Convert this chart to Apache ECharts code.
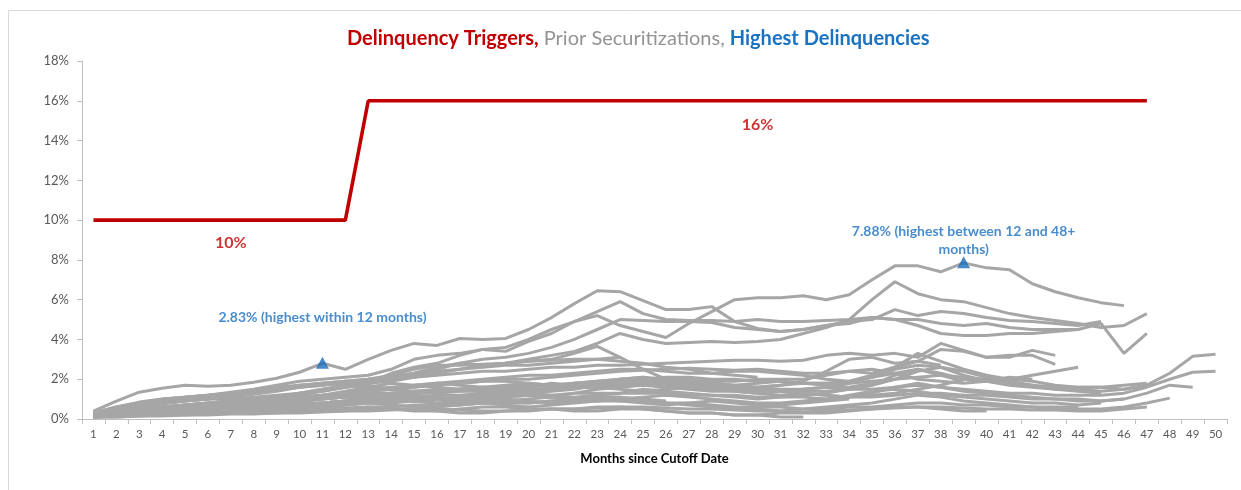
<!DOCTYPE html>
<html>
<head>
<meta charset="utf-8">
<script src="https://cdn.jsdelivr.net/npm/echarts@6/dist/echarts.min.js"></script>
<style>
html,body{margin:0;padding:0;background:#fff;}
#chart{width:1241px;height:490px;}
</style>
</head>
<body>
<div id="chart"></div>
<script>
// ---------- DATA ----------
const months = Array.from({length: 50}, (_, i) => String(i + 1));

// Delinquency trigger (%), months 1..47
const triggerValues = [10,10,10,10,10,10,10,10,10,10,10,10,
  16,16,16,16,16,16,16,16,16,16,16,16,16,16,16,16,16,16,16,16,16,16,16,16,
  16,16,16,16,16,16,16,16,16,16,16];

// Prior securitizations delinquency curves (%), each starting at month 1
const prior01 = [0.4,0.9,1.35,1.55,1.7,1.65,1.7,1.85,2.05,2.35,2.8,2.5,3.0,3.45,3.8,3.7,4.05,4.0,4.05,4.5,5.1,5.8,6.45,6.4,5.95,5.5,5.5,5.65,4.9,4.55,4.4,4.5,4.7,4.9,5.0,5.5,5.2,5.4,5.3,5.1,4.95,4.9,4.8,4.7,4.9];
const prior02 = [0.3,0.6,0.85,1.0,1.1,1.2,1.35,1.5,1.7,1.9,2.0,2.1,2.2,2.5,3.0,3.2,3.3,3.5,3.4,3.9,4.3,4.9,5.4,5.9,5.3,5.0,4.95,4.95,4.9,5.0,4.9,4.9,4.95,5.0,6.0,6.9,6.3,6.0,5.9,5.6,5.3,5.1,4.95,4.8,4.6,4.7,5.3];
const prior03 = [0.2,0.4,0.6,0.75,0.9,1.0,1.1,1.3,1.5,1.7,1.8,1.9,1.8,2.3,2.6,2.8,3.2,3.5,3.6,4.0,4.5,4.9,5.2,4.7,4.4,4.1,4.8,5.4,6.0,6.1,6.1,6.2,6.0,6.25,7.0,7.7,7.7,7.4,7.85,7.6,7.5,6.8,6.4,6.1,5.85,5.7];
const prior04 = [0.3,0.5,0.7,0.9,1.0,1.1,1.2,1.3,1.5,1.6,1.8,1.9,2.0,2.1,2.3,2.6,2.8,2.7,2.8,3.0,3.2,3.4,3.8,4.3,4.0,3.8,3.85,3.9,3.85,3.9,4.0,4.3,4.6,5.0,5.1,5.0,5.0,4.8,4.7,4.8,4.6,4.5,4.5,4.5,4.8,3.3,4.3];
const prior05 = [0.2,0.35,0.5,0.6,0.7,0.8,0.9,1.0,1.1,1.3,1.5,1.7,1.9,2.1,2.3,2.5,2.8,3.0,3.1,3.3,3.6,4.0,4.5,5.0,4.95,4.9,4.9,4.85,4.6,4.5,4.4,4.5,4.7,4.8,5.1,5.0,4.7,4.3,4.2,4.2,4.3,4.3,4.4,4.5];
const prior06 = [0.2,0.3,0.45,0.55,0.65,0.75,0.85,1.0,1.1,1.2,1.4,1.6,1.8,1.9,2.1,2.2,2.3,2.4,2.4,2.5,2.6,2.6,2.7,2.7,2.75,2.8,2.85,2.9,2.95,2.95,2.9,2.95,3.2,3.3,3.2,3.3,3.1,3.8,3.45,3.1,3.1,3.45,3.2];
const prior07 = [0.3,0.5,0.7,0.8,0.9,1.0,1.1,1.25,1.4,1.6,1.7,1.9,2.0,2.2,2.5,2.7,2.7,2.75,2.8,2.9,3.0,3.3,3.65,3.1,2.5,2.0,1.8,1.7,1.6,1.6,1.7,1.9,2.4,3.0,3.1,2.8,2.9,3.5,3.4,3.1,3.2,3.2,2.75];
const prior08 = [0.2,0.3,0.4,0.5,0.55,0.6,0.7,0.8,0.9,1.0,1.1,1.3,1.5,1.6,1.7,1.8,1.8,1.9,2.0,2.0,2.1,2.2,2.3,2.4,2.45,2.5,2.55,2.5,2.45,2.5,2.4,2.3,2.3,2.4,2.5,2.3,2.0,1.9,1.8,1.9,2.0,2.2,2.4,2.6];
const prior09 = [0.2,0.3,0.4,0.5,0.55,0.6,0.7,0.8,0.9,1.0,1.1,1.2,1.3,1.3,1.4,1.5,1.5,1.6,1.6,1.7,1.7,1.8,1.8,1.9,1.9,2.0,2.0,1.9,1.9,2.0,2.0,2.0,2.2,2.4,2.3,2.6,3.3,2.9,2.5,2.2,2.0,1.9,1.7,1.6,1.6,1.7,1.8];
const prior10 = [0.1,0.2,0.3,0.4,0.5,0.55,0.6,0.7,0.8,0.9,1.0,1.1,1.2,1.3,1.3,1.4,1.4,1.5,1.5,1.6,1.7,1.8,1.9,2.0,2.0,2.1,2.1,2.0,2.0,1.9,1.9,1.8,1.8,1.8,1.9,2.0,2.1,2.2,2.1,2.0,1.8,1.7,1.6,1.6,1.6,1.5,1.7,2.3,3.15,3.25];
const prior11 = [0.2,0.3,0.4,0.5,0.6,0.7,0.7,0.8,0.8,0.9,1.0,1.1,1.2,1.2,1.3,1.3,1.4,1.4,1.4,1.5,1.5,1.6,1.6,1.7,1.7,1.7,1.6,1.6,1.5,1.5,1.4,1.4,1.4,1.5,1.5,1.6,1.7,1.6,1.5,1.4,1.3,1.3,1.2,1.2,1.2,1.3,1.6,2.0,2.35,2.4];
const prior12 = [0.1,0.2,0.3,0.35,0.4,0.45,0.5,0.55,0.6,0.7,0.75,0.8,0.9,0.9,1.0,1.0,1.1,1.1,1.1,1.2,1.2,1.3,1.3,1.3,1.3,1.3,1.2,1.2,1.2,1.1,1.1,1.1,1.0,1.1,1.1,1.2,1.3,1.3,1.2,1.2,1.1,1.0,1.0,0.9,0.9,1.0,1.3,1.7,1.6];
const prior13 = [0.1,0.15,0.2,0.25,0.3,0.3,0.35,0.4,0.4,0.45,0.5,0.55,0.6,0.6,0.7,0.7,0.7,0.8,0.8,0.8,0.9,0.9,0.9,0.9,0.9,0.8,0.8,0.7,0.6,0.6,0.6,0.5,0.5,0.6,0.6,0.7,0.8,0.8,0.7,0.7,0.6,0.6,0.5,0.5,0.5,0.6,0.8,1.05];
const prior14 = [0.3,0.5,0.6,0.8,0.9,1.0,1.0,1.1,1.2,1.3,1.4,1.6,1.7,1.5,1.4,1.3,1.5,1.6,1.5,1.4,1.6,1.8,1.9,2.0,2.1,2.0,1.9,1.8,1.7,1.8,1.9,1.8,1.7,1.6,1.8,2.0,2.4,2.6,2.2,1.9,1.7,1.6,1.5,1.5,1.4,1.5,1.7];
const prior15 = [0.2,0.3,0.4,0.5,0.6,0.6,0.7,0.7,0.8,0.9,1.0,1.1,1.0,0.9,0.9,1.0,1.1,1.2,1.3,1.2,1.1,1.3,1.5,1.6,1.7,1.6,1.5,1.4,1.4,1.3,1.2,1.3,1.2,1.1,1.3,1.6,1.8,1.6,1.4,1.3,1.2,1.1,1.0,1.0,0.9,1.0];
const prior16 = [0.2,0.25,0.3,0.35,0.4,0.5,0.55,0.6,0.7,0.75,0.8,0.9,1.1,1.3,1.2,1.0,0.9,0.8,0.9,1.0,1.1,1.0,0.9,1.0,1.1,1.2,1.1,1.0,0.9,0.8,0.8,0.9,1.0,1.2,1.4,1.5,1.4,1.2,1.1,1.0,0.9,0.8,0.8,0.7,0.8];
const prior17 = [0.1,0.2,0.25,0.3,0.3,0.35,0.4,0.4,0.45,0.5,0.6,0.7,0.8,0.7,0.6,0.6,0.7,0.8,0.7,0.6,0.7,0.8,0.9,1.0,0.9,0.8,0.7,0.6,0.5,0.5,0.4,0.5,0.6,0.7,0.8,1.0,1.2,1.1,0.9,0.8,0.7,0.6,0.6,0.6];
const prior18 = [0.3,0.5,0.7,0.9,1.1,1.2,1.3,1.4,1.6,1.7,1.8,1.7,1.6,1.5,1.6,1.8,1.7,1.6,1.5,1.6,1.8,1.7,1.6,1.5,1.4,1.5,1.6,1.5,1.4,1.3,1.4,1.5,1.6,1.5,1.7,2.2,2.5,2.3,2.0,1.9,2.1,2.0];
const prior19 = [0.1,0.15,0.2,0.2,0.25,0.3,0.3,0.35,0.4,0.45,0.5,0.5,0.6,0.5,0.5,0.4,0.5,0.6,0.6,0.5,0.5,0.4,0.4,0.5,0.5,0.4,0.3,0.3,0.2,0.2,0.3,0.3,0.3,0.4,0.5,0.6,0.6,0.5,0.4,0.4];
const prior20 = [0.2,0.35,0.5,0.6,0.7,0.8,0.9,1.0,1.0,1.1,1.2,1.4,1.6,1.8,1.7,1.6,1.5,1.4,1.3,1.3,1.4,1.5,1.7,2.0,2.1,1.9,1.7,1.6,1.5,1.6,1.7,1.8,1.8,1.9,2.2,2.6,2.9,2.7];
const prior21 = [0.1,0.2,0.3,0.4,0.4,0.5,0.5,0.6,0.7,0.8,0.8,0.9,1.0,1.1,1.2,1.1,1.0,1.1,1.2,1.3,1.2,1.1,1.2,1.3,1.5,1.4,1.3,1.2,1.1,1.0,1.1,1.2,1.3,1.5,1.7,2.0];
const prior22 = [0.2,0.3,0.3,0.4,0.5,0.5,0.6,0.6,0.7,0.7,0.8,0.9,0.9,1.0,0.9,0.8,0.8,0.9,1.0,0.9,0.8,0.9,1.0,0.9,0.8,0.7,0.8,0.9,0.8,0.7,0.7,0.8,0.9,1.0];
const prior23 = [0.1,0.1,0.15,0.2,0.2,0.25,0.3,0.3,0.3,0.35,0.4,0.4,0.5,0.5,0.4,0.4,0.3,0.3,0.4,0.4,0.5,0.5,0.6,0.6,0.5,0.4,0.3,0.3,0.2,0.2,0.1,0.1];
const prior24 = [0.3,0.6,0.8,1.0,1.1,1.2,1.3,1.4,1.5,1.6,1.7,1.8,1.9,2.0,2.1,2.3,2.5,2.7,2.8,2.9,2.95,3.0,3.0,2.9,2.8,2.6,2.5,2.3,2.2,2.1];
const prior25 = [0.2,0.3,0.4,0.5,0.5,0.6,0.7,0.8,0.9,1.0,1.1,1.1,1.2,1.3,1.4,1.4,1.5,1.6,1.7,1.8,1.7,1.6,1.8,2.0,1.9,1.8,1.7,1.6];
const prior26 = [0.1,0.2,0.2,0.3,0.3,0.4,0.4,0.5,0.5,0.6,0.6,0.7,0.8,0.8,0.9,1.0,1.0,0.9,0.9,0.8,0.9,1.0,1.1,1.1,1.0,0.9];
const prior27 = [0.2,0.3,0.5,0.6,0.7,0.8,0.9,1.0,1.1,1.3,1.5,1.6,1.8,2.0,2.2,2.4,2.5,2.6,2.7,2.7,2.8,2.9,3.0,3.1];
const prior28 = [0.1,0.2,0.3,0.3,0.4,0.4,0.5,0.5,0.6,0.6,0.7,0.8,0.9,1.0,0.9,0.8,0.9,1.0,1.1,1.2,1.1,1.0];
const prior29 = [0.1,0.1,0.15,0.15,0.2,0.2,0.25,0.25,0.3,0.3,0.35,0.4,0.4,0.45,0.5,0.5,0.45,0.4,0.4,0.45,0.5,0.5,0.55,0.6,0.6,0.55,0.5,0.5,0.45,0.4,0.4,0.35,0.4,0.45,0.5,0.55,0.6,0.6,0.55,0.5,0.5,0.45,0.45,0.4,0.4,0.5,0.6];
const prior30 = [0.2,0.3,0.4,0.5,0.6,0.7,0.8,0.9,1.0,1.1,1.2,1.3,1.4,1.5,1.6,1.7,1.8,1.9,1.9,1.8,1.7,1.6,1.6,1.7,1.8,1.9,1.9,1.8,1.7,1.6,1.5,1.5,1.6,1.8,2.1,2.5,2.7,2.6,2.4,2.1,1.9,1.7,1.5,1.4,1.3];
const prior31 = [0.1,0.2,0.3,0.3,0.4,0.4,0.5,0.6,0.6,0.7,0.8,0.9,1.0,1.0,1.1,1.2,1.2,1.3,1.4,1.4,1.5,1.6,1.7,1.8,1.9,1.8,1.7,1.6,1.5,1.4,1.4,1.3,1.2,1.1,1.2,1.3,1.5,1.7,2.0,1.9,1.8];
const prior32 = [0.2,0.3,0.4,0.5,0.6,0.7,0.8,0.9,1.0,1.1,1.2,1.3,1.4,1.5,1.7,1.8,1.9,2.0,2.1,2.2,2.2,2.3,2.4,2.5,2.5,2.4,2.3,2.3,2.4,2.4,2.3,2.2,2.0,1.9,2.1,2.3,2.5,2.2,1.9];

const priorSeries = [prior01,prior02,prior03,prior04,prior05,prior06,prior07,prior08,prior09,prior10,
  prior11,prior12,prior13,prior14,prior15,prior16,prior17,prior18,prior19,prior20,
  prior21,prior22,prior23,prior24,prior25,prior26,prior27,prior28,prior29,prior30,prior31,prior32];

// Highest delinquencies (month, %)
const highestMonths = ['11', '39'];
const highestValues = [2.83, 7.88];
const highestTexts = ['2.83% (highest within 12 months)', '7.88% (highest between 12 and 48+\nmonths)'];

// Trigger level labels
const triggerLabelTexts = ['10%', '16%'];

// y-axis ticks
const yMin = 0, yMax = 18, yInterval = 2;

// ---------- CHART ----------
const RED = '#c00000', GRAY = '#a6a6a6', BLUE = '#1a6fc0';
const FONT = 'Lato, "Open Sans", sans-serif';

const chart = echarts.init(document.getElementById('chart'), null, {renderer: 'canvas'});

const series = [];
priorSeries.forEach((arr, i) => {
  series.push({
    name: 'Prior ' + (i + 1),
    type: 'line',
    data: arr,
    symbol: 'none',
    silent: true,
    lineStyle: {color: GRAY, width: 3},
    z: 2
  });
});

series.push({
  name: 'Delinquency Trigger',
  type: 'line',
  data: triggerValues,
  symbol: 'none',
  lineStyle: {color: RED, width: 3.6},
  z: 4
});

// text anchors (label placement in data space)
const triggerLabelAnchors = [['7', 8.85], ['30', 14.8]];
const highestLabelAnchors = [['11', 5.08], ['39', 9.0]];

series.push({
  name: 'Trigger labels',
  type: 'scatter',
  symbolSize: 0,
  silent: true,
  data: triggerLabelAnchors.map((p, i) => ({value: p, text: triggerLabelTexts[i]})),
  label: {
    show: true, position: 'inside',
    formatter: p => p.data.text,
    color: RED, fontFamily: FONT, fontSize: 16, fontWeight: 'bold'
  },
  z: 5
});

series.push({
  name: 'Highest labels',
  type: 'scatter',
  symbolSize: 0,
  silent: true,
  data: highestLabelAnchors.map((p, i) => ({value: p, text: highestTexts[i]})),
  label: {
    show: true, position: 'inside',
    formatter: p => p.data.text,
    color: BLUE, fontFamily: FONT, fontSize: 14, fontWeight: 'bold',
    align: 'center', lineHeight: 18
  },
  z: 5
});

series.push({
  name: 'Highest Delinquencies',
  type: 'scatter',
  symbol: 'triangle',
  symbolSize: [13, 12],
  data: highestMonths.map((m, i) => [m, highestValues[i]]),
  itemStyle: {color: '#1a6bbd'},
  z: 6
});

const option = {
  backgroundColor: '#ffffff',
  animation: false,
  title: {
    text: '{r|Delinquency Triggers,} {g|Prior Securitizations,} {b|Highest Delinquencies}',
    left: 342,
    top: 24,
    textStyle: {
      rich: {
        r: {color: RED, fontFamily: FONT, fontSize: 20, fontWeight: 'bold'},
        g: {color: '#939393', fontFamily: FONT, fontSize: 20, fontWeight: 'normal'},
        b: {color: '#1a73c2', fontFamily: FONT, fontSize: 20, fontWeight: 'bold'}
      }
    }
  },
  graphic: [{
    type: 'rect',
    shape: {x: 8.5, y: 10.5, width: 1400, height: 700},
    style: {fill: 'none', stroke: '#d9d9d9', lineWidth: 1},
    silent: true, z: -1
  }],
  grid: {left: 82, right: 14, top: 61, bottom: 71},
  xAxis: {
    type: 'category',
    data: months,
    boundaryGap: true,
    name: 'Months since Cutoff Date',
    nameLocation: 'middle',
    nameGap: 33,
    nameTextStyle: {fontFamily: FONT, fontSize: 13, fontWeight: 'bold', color: '#000'},
    axisLine: {lineStyle: {color: '#bfbfbf', width: 1}},
    axisTick: {show: true, alignWithLabel: false, length: 5, lineStyle: {color: '#bfbfbf'}},
    axisLabel: {interval: 0, margin: 9, fontFamily: FONT, fontSize: 11.5, color: '#595959'},
    splitLine: {show: false}
  },
  yAxis: {
    type: 'value',
    min: yMin, max: yMax, interval: yInterval,
    axisLine: {show: true, lineStyle: {color: '#bfbfbf', width: 1}},
    axisTick: {show: true, length: 5, inside: false, lineStyle: {color: '#bfbfbf'}},
    axisLabel: {formatter: '{value}%', margin: 13, fontFamily: FONT, fontSize: 13, color: '#595959'},
    splitLine: {show: false}
  },
  series: series
};

chart.setOption(option);
</script>
</body>
</html>
